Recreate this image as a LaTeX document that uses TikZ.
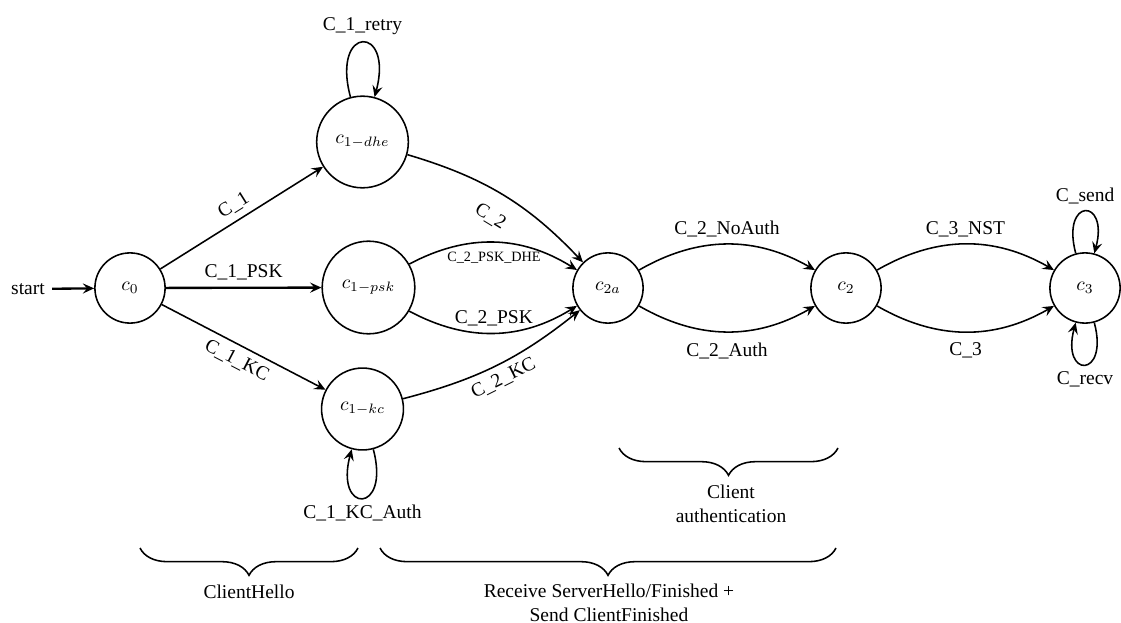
\documentclass[tikz,border=0pt]{standalone}
\usepackage{fontspec}
\setmainfont{Liberation Serif}
\usetikzlibrary{arrows.meta,decorations.pathreplacing}

\begin{document}
\begin{tikzpicture}[
    x=0.5128pt, y=0.5128pt,
    >={Stealth[length=5.8pt,width=5.2pt,inset=2.2pt]},
    every path/.style={thick},
    state/.style={circle, draw, thick, minimum size=36pt, inner sep=0pt},
    small label/.style={font=\fontsize{7.3}{9}\selectfont},
    span brace/.style={decorate, decoration={brace, mirror, amplitude=14pt}},
    self loop/.style={out=#1+15, in=#1-15, looseness=8, min distance=5mm},
  ]
  \useasboundingbox (0,0) rectangle (1121,-623);

  % states
  \node[state] (c0) at (130,-288) {$c_0$};
  \node[state, minimum size=47pt] (c1d) at (362.5,-142) {$c_{1-dhe}$};
  \node[state, minimum size=47.5pt] (c1p) at (368.5,-287.5) {$c_{1-psk}$};
  \node[state, minimum size=42pt] (c1k) at (362.5,-409) {$c_{1-kc}$};
  \node[state] (c2a) at (608,-288) {$c_{2a}$};
  \node[state] (c2) at (846,-288) {$c_2$};
  \node[state] (c3) at (1085,-288) {$c_3$};

  % initial arrow
  \node (start) at (28,-289) {start};
  \draw[->, line width=1.2pt] (start) -- (c0);

  % ClientHello transitions
  \draw[->] (c0) -- node[above, sloped] {C\_1} (c1d);
  \draw[->, line width=1.2pt] (c0) -- node[above] {C\_1\_PSK} (c1p);
  \draw[->] (c0) -- node[below, sloped] {C\_1\_KC} (c1k);

  % retry loops
  \draw[->] (c1d) to[self loop=90] node[above] {C\_1\_retry} (c1d);
  \draw[->] (c1k) to[out=-75, in=-105, looseness=8, min distance=5mm] node[below] {C\_1\_KC\_Auth} (c1k);

  % server flight
  \draw[->] (c1d) to[bend left=15] node[below=5pt, sloped, pos=0.5] {C\_2} (c2a);
  \draw[->] (c1p) to[bend left=30] node[below=1pt, small label] {C\_2\_PSK\_DHE} (c2a);
  \draw[->] (c1p) to[bend right=30] node[above] {C\_2\_PSK} (c2a);
  \draw[->] (c1k) to[bend right=12] node[below, sloped] {C\_2\_KC} (c2a);

  % client authentication
  \draw[->] (c2a) to[bend left=30] node[above] {C\_2\_NoAuth} (c2);
  \draw[->] (c2a) to[bend right=30] node[below=2pt] {C\_2\_Auth} (c2);

  % finished
  \draw[->] (c2) to[bend left=30] node[above] {C\_3\_NST} (c3);
  \draw[->] (c2) to[bend right=30] node[below=2pt] {C\_3} (c3);
  \draw[->] (c3) to[self loop=90] node[above] {C\_send} (c3);
  \draw[->] (c3) to[out=-75, in=-105, looseness=8, min distance=5mm] node[below] {C\_recv} (c3);

  % phase braces
  \coordinate (authL) at (619,-448);
  \coordinate (authR) at (838,-448);
  \draw[span brace] (authL) -- (authR);
  \node[align=center] (auth) at (731,-504) {Client\\authentication};

  \coordinate (helloL) at (140,-548);
  \coordinate (helloR) at (358,-548);
  \draw[span brace] (helloL) -- (helloR);
  \node (hello) at (249,-592) {ClientHello};

  \coordinate (recvL) at (380,-548);
  \coordinate (recvR) at (836,-548);
  \draw[span brace] (recvL) -- (recvR);
  \node[align=center] (recv) at (609,-603) {Receive ServerHello/Finished +\\Send ClientFinished};
\end{tikzpicture}
\end{document}
